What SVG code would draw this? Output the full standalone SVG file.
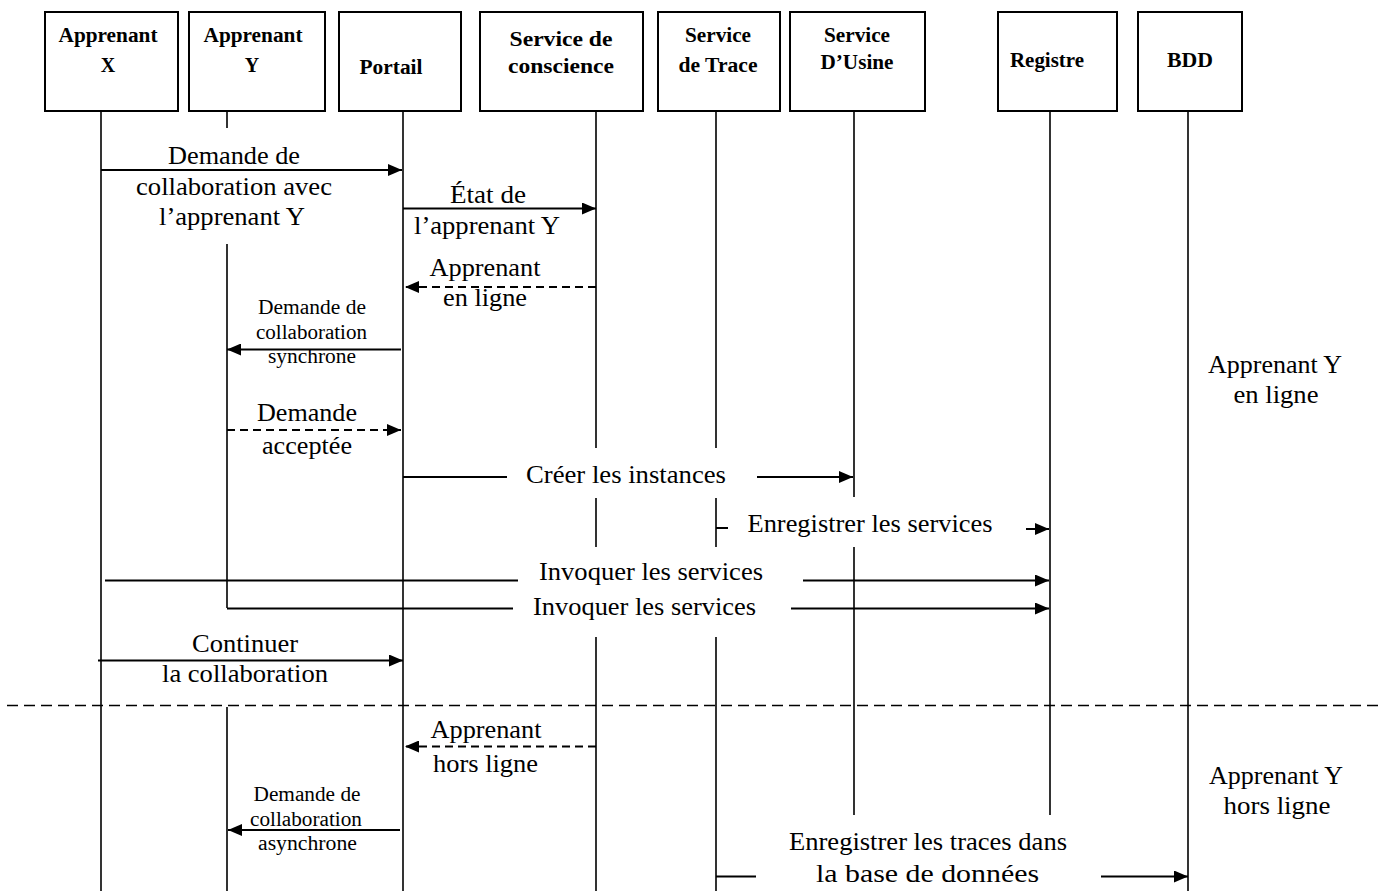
<svg xmlns="http://www.w3.org/2000/svg" width="1380" height="891" viewBox="0 0 1380 891">
  <style>
    text { font-family: "Liberation Serif", serif; fill: #000; text-anchor: middle; }
    .hd { font-weight: bold; font-size: 20px; }
    .hd2 { font-weight: bold; font-size: 22px; }
    .tx { font-size: 25px; }
    .sm { font-size: 20px; }
    .box { fill: #fff; stroke: #000; stroke-width: 2; }
    .life { stroke: #000; stroke-width: 1.6; fill: none; }
    .msg { stroke: #000; stroke-width: 2; fill: none; }
    .dash { stroke-dasharray: 8 5; }
    .sep { stroke: #000; stroke-width: 1.6; stroke-dasharray: 11 6; fill: none; }
  </style>
  <defs>
    <marker id="arrow" markerUnits="userSpaceOnUse" markerWidth="14" markerHeight="12" refX="14" refY="6" orient="auto">
      <path d="M0,0 L14,6 L0,12 z" fill="#000"/>
    </marker>
  </defs>
  <rect width="1380" height="891" fill="#fff"/>

  <!-- participants with their lifelines -->
  <g id="apprenant-x">
    <rect class="box" x="45" y="12" width="133" height="99"/>
    <text class="hd" x="108" y="42" textLength="99" lengthAdjust="spacingAndGlyphs">Apprenant</text>
    <text class="hd" x="108" y="72">X</text>
    <path class="life" d="M101,111 V891"/>
  </g>
  <g id="apprenant-y">
    <rect class="box" x="189" y="12" width="136" height="99"/>
    <text class="hd" x="253" y="42" textLength="99" lengthAdjust="spacingAndGlyphs">Apprenant</text>
    <text class="hd" x="252" y="72">Y</text>
    <path class="life" d="M227,111 V128 M227,244 V608 M227,707 V891"/>
  </g>
  <g id="portail">
    <rect class="box" x="339" y="12" width="122" height="99"/>
    <text class="hd" x="391" y="74" textLength="63" lengthAdjust="spacingAndGlyphs">Portail</text>
    <path class="life" d="M403,111 V891"/>
  </g>
  <g id="service-conscience">
    <rect class="box" x="480" y="12" width="163" height="99"/>
    <text class="hd2" x="561" y="46" textLength="103" lengthAdjust="spacingAndGlyphs">Service de</text>
    <text class="hd2" x="561" y="73" textLength="106" lengthAdjust="spacingAndGlyphs">conscience</text>
    <path class="life" d="M596,111 V448 M596,498 V547 M596,637 V891"/>
  </g>
  <g id="service-trace">
    <rect class="box" x="658" y="12" width="122" height="99"/>
    <text class="hd" x="718" y="42" textLength="66" lengthAdjust="spacingAndGlyphs">Service</text>
    <text class="hd" x="718" y="72" textLength="79" lengthAdjust="spacingAndGlyphs">de Trace</text>
    <path class="life" d="M716,111 V448 M716,498 V547 M716,637 V891"/>
  </g>
  <g id="service-usine">
    <rect class="box" x="790" y="12" width="135" height="99"/>
    <text class="hd" x="857" y="42" textLength="66" lengthAdjust="spacingAndGlyphs">Service</text>
    <text class="hd" x="857" y="69" textLength="73" lengthAdjust="spacingAndGlyphs">D’Usine</text>
    <path class="life" d="M854,111 V497 M854,547 V815"/>
  </g>
  <g id="registre">
    <rect class="box" x="998" y="12" width="119" height="99"/>
    <text class="hd" x="1047" y="67" textLength="74" lengthAdjust="spacingAndGlyphs">Registre</text>
    <path class="life" d="M1050,111 V815"/>
  </g>
  <g id="bdd">
    <rect class="box" x="1138" y="12" width="104" height="99"/>
    <text class="hd" x="1190" y="67" textLength="46" lengthAdjust="spacingAndGlyphs">BDD</text>
    <path class="life" d="M1188,111 V891"/>
  </g>

  <!-- state notes on the right -->
  <g id="etat-en-ligne">
    <text class="tx" x="1275" y="373" textLength="134" lengthAdjust="spacingAndGlyphs">Apprenant Y</text>
    <text class="tx" x="1276" y="403" textLength="85" lengthAdjust="spacingAndGlyphs">en ligne</text>
  </g>
  <g id="etat-hors-ligne">
    <text class="tx" x="1276" y="784" textLength="134" lengthAdjust="spacingAndGlyphs">Apprenant Y</text>
    <text class="tx" x="1277" y="814" textLength="107" lengthAdjust="spacingAndGlyphs">hors ligne</text>
  </g>

  <!-- separator between the online and offline phases -->
  <path id="separateur" class="sep" d="M7,705.5 H1380"/>

  <!-- messages -->
  <g id="connectors">
    <g id="m1">
      <path class="msg" d="M101,170 H402" marker-end="url(#arrow)"/>
      <text class="tx" x="234" y="164" textLength="132" lengthAdjust="spacingAndGlyphs">Demande de</text>
      <text class="tx" x="234" y="195" textLength="196" lengthAdjust="spacingAndGlyphs">collaboration avec</text>
      <text class="tx" x="232" y="225" textLength="146" lengthAdjust="spacingAndGlyphs">l’apprenant Y</text>
    </g>
    <g id="m2">
      <path class="msg" d="M403,208.5 H596" marker-end="url(#arrow)"/>
      <text class="tx" x="488" y="203" textLength="76" lengthAdjust="spacingAndGlyphs">État de</text>
      <text class="tx" x="487" y="234" textLength="146" lengthAdjust="spacingAndGlyphs">l’apprenant Y</text>
    </g>
    <g id="m3">
      <path class="msg dash" d="M596,287 H405" marker-end="url(#arrow)"/>
      <text class="tx" x="485" y="276" textLength="111" lengthAdjust="spacingAndGlyphs">Apprenant</text>
      <text class="tx" x="485" y="306" textLength="84" lengthAdjust="spacingAndGlyphs">en ligne</text>
    </g>
    <g id="m4">
      <path class="msg" d="M401,349.5 H227" marker-end="url(#arrow)"/>
      <text class="sm" x="312" y="314" textLength="108" lengthAdjust="spacingAndGlyphs">Demande de</text>
      <text class="sm" x="311.5" y="339" textLength="111" lengthAdjust="spacingAndGlyphs">collaboration</text>
      <text class="sm" x="312" y="363" textLength="88" lengthAdjust="spacingAndGlyphs">synchrone</text>
    </g>
    <g id="m5">
      <path class="msg dash" d="M227,430 H401" marker-end="url(#arrow)"/>
      <text class="tx" x="307" y="421" textLength="100" lengthAdjust="spacingAndGlyphs">Demande</text>
      <text class="tx" x="307" y="454" textLength="90" lengthAdjust="spacingAndGlyphs">acceptée</text>
    </g>
    <g id="m6">
      <path class="msg" d="M403,477 H507"/>
      <path class="msg" d="M757,477 H853" marker-end="url(#arrow)"/>
      <text class="tx" x="626" y="483" textLength="200" lengthAdjust="spacingAndGlyphs">Créer les instances</text>
    </g>
    <g id="m7">
      <path class="msg" d="M716,528 H728"/>
      <path class="msg" d="M1026,529 H1049" marker-end="url(#arrow)"/>
      <text class="tx" x="870" y="532" textLength="245" lengthAdjust="spacingAndGlyphs">Enregistrer les services</text>
    </g>
    <g id="m8">
      <path class="msg" d="M105,580.5 H518"/>
      <path class="msg" d="M803,580.5 H1049" marker-end="url(#arrow)"/>
      <text class="tx" x="651" y="580" textLength="224" lengthAdjust="spacingAndGlyphs">Invoquer les services</text>
    </g>
    <g id="m9">
      <path class="msg" d="M227,608.5 H513"/>
      <path class="msg" d="M791,608.5 H1049" marker-end="url(#arrow)"/>
      <text class="tx" x="644.5" y="615" textLength="223" lengthAdjust="spacingAndGlyphs">Invoquer les services</text>
    </g>
    <g id="m10">
      <path class="msg" d="M98,660.5 H403" marker-end="url(#arrow)"/>
      <text class="tx" x="245" y="652" textLength="106" lengthAdjust="spacingAndGlyphs">Continuer</text>
      <text class="tx" x="245" y="682" textLength="166" lengthAdjust="spacingAndGlyphs">la collaboration</text>
    </g>
    <g id="m11">
      <path class="msg dash" d="M596,746.5 H405" marker-end="url(#arrow)"/>
      <text class="tx" x="486" y="738" textLength="111" lengthAdjust="spacingAndGlyphs">Apprenant</text>
      <text class="tx" x="485.5" y="772" textLength="105" lengthAdjust="spacingAndGlyphs">hors ligne</text>
    </g>
    <g id="m12">
      <path class="msg" d="M400,830 H228" marker-end="url(#arrow)"/>
      <text class="sm" x="307" y="801" textLength="107" lengthAdjust="spacingAndGlyphs">Demande de</text>
      <text class="sm" x="306" y="826" textLength="112" lengthAdjust="spacingAndGlyphs">collaboration</text>
      <text class="sm" x="307.5" y="850" textLength="99" lengthAdjust="spacingAndGlyphs">asynchrone</text>
    </g>
    <g id="m13">
      <path class="msg" d="M716,876.5 H756"/>
      <path class="msg" d="M1101,876.5 H1188" marker-end="url(#arrow)"/>
      <text class="tx" x="928" y="850" textLength="278" lengthAdjust="spacingAndGlyphs">Enregistrer les traces dans</text>
      <text class="tx" x="927.5" y="882" textLength="223" lengthAdjust="spacingAndGlyphs">la base de données</text>
    </g>
  </g>
</svg>
